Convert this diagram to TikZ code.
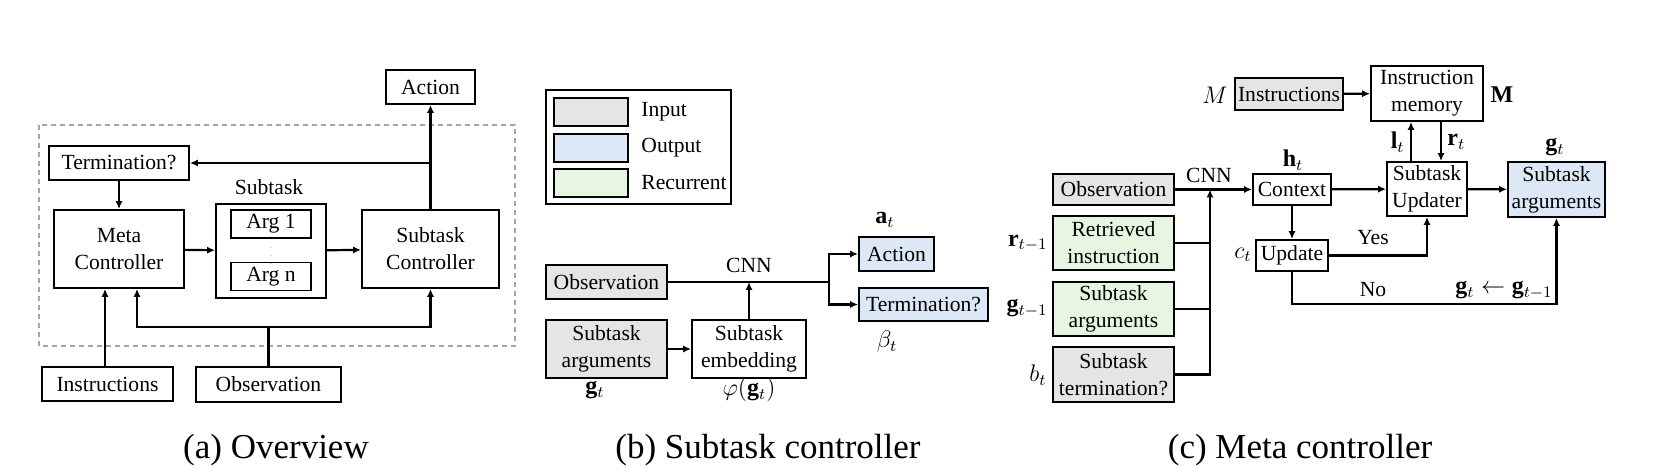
\documentclass[tikz,border=0pt]{standalone}
\usepackage{amsmath,amssymb}
\usepackage{fontspec}
\setmainfont{Liberation Serif}
\usetikzlibrary{arrows.meta}
\definecolor{InGray}{RGB}{229,229,229}
\definecolor{OutBlue}{RGB}{221,232,246}
\definecolor{RecGreen}{RGB}{230,246,225}
\definecolor{DashGray}{RGB}{165,165,165}
\tikzset{
  blk/.style={
    draw=black,
    line width=0.95pt,
    inner sep=0pt,
    align=center,
    font=\fontsize{10.8}{13.5}\selectfont
  },
  inbox/.style={blk,fill=InGray},
  outbox/.style={blk,fill=OutBlue},
  recbox/.style={blk,fill=RecGreen},
  sz/.style 2 args={minimum width=#1pt,minimum height=#2pt},
  lbl/.style={inner sep=0pt,font=\fontsize{10.8}{13.5}\selectfont},
  mathlbl/.style={inner sep=0pt,font=\fontsize{12}{14}\selectfont},
  caption/.style={inner sep=0pt,font=\fontsize{17.5}{20}\selectfont},
  arrow/.style={-{Latex[length=4pt,width=3.6pt]},line width=1.1pt},
  link/.style={line width=1.1pt}
}

\begin{document}
\begin{tikzpicture}[x=0.5pt,y=-0.5pt]
  \useasboundingbox (0,0) rectangle (1656,474);

  % (a) overview
  \draw[DashGray,line width=0.8pt,dash pattern=on 2.5pt off 2pt] (39,125) rectangle (515,346);
  \node[blk,sz={44.5}{17}] (act) at (430.5,87) {Action};
  \node[blk,sz={70}{17}] (term) at (119,163) {Termination?};
  \node[blk,sz={65}{39}] (meta) at (119,249) {Meta\\Controller};
  \node[blk,sz={55}{47}] (subt) at (271,251) {};
  \node[lbl] (subtlbl) at (269,187) {Subtask};
  \node[blk,line width=0.8pt,sz={40}{14}] (arg1) at (271,224) {Arg 1};
  \node[blk,line width=0.8pt,sz={40}{14}] (argn) at (271,276.5) {Arg n};
  \node[lbl,text=gray!60] (argdots) at (271,250) {\tiny$\vdots$};
  \node[blk,sz={68.5}{39}] (sctrl) at (430.5,249) {Subtask\\Controller};
  \node[blk,sz={65.5}{17}] (instr) at (107.5,384) {Instructions};
  \node[blk,sz={72.5}{17.5}] (obs) at (268.5,384.5) {Observation};
  \coordinate (tsplit) at (430.5,163);
  \coordinate (obus) at (268.5,327);
  \draw[arrow] (sctrl) -- (act);
  \draw[arrow] (tsplit) -- (term);
  \draw[arrow] (term) -- (meta);
  \draw[arrow] (meta) -- (subt);
  \draw[arrow] (subt) -- (sctrl);
  \draw[arrow] ([xshift=-1.25pt]instr.north) -- ([xshift=-1.25pt]instr.north |- meta.south);
  \draw[link] (obs) -- (obus);
  \draw[arrow] (obus) -| ([xshift=9pt]meta.south);
  \draw[arrow] (obus) -| (sctrl.south);

  % (b) subtask controller
  \node[blk,sz={92.5}{57}] (legend) at (638.5,147) {};
  \node[inbox,sz={37}{14}] (keyin) at (591,112) {};
  \node[outbox,sz={37}{14}] (keyout) at (591,148) {};
  \node[recbox,sz={37}{14}] (keyrec) at (591,183) {};
  \node[lbl,anchor=west] (keyinlbl) at (641,112) {Input};
  \node[lbl,anchor=west] (keyoutlbl) at (641,148) {Output};
  \node[lbl,anchor=west] (keyreclbl) at (641,183) {Recurrent};
  \node[inbox,sz={60.5}{17}] (obsb) at (606.5,282) {Observation};
  \node[inbox,sz={60.5}{29}] (argsb) at (606.5,349) {Subtask\\arguments};
  \node[blk,sz={57}{29}] (emb) at (749,349) {Subtask\\embedding};
  \node[outbox,sz={37.5}{17}] (actb) at (896.5,254) {Action};
  \node[outbox,sz={64.5}{16.5}] (termb) at (923.5,304.5) {Termination?};
  \node[lbl] (cnnb) at (749,265) {CNN};
  \node[mathlbl] (atlbl) at (885,220) {$\mathbf{a}_t$};
  \node[mathlbl] (btlbl) at (887,342) {$\beta_t$};
  \node[mathlbl] (gtlbl) at (595,390) {$\mathbf{g}_t$};
  \node[mathlbl] (phlbl) at (749,390) {$\varphi(\mathbf{g}_t)$};
  \coordinate (embin) at (749,282);
  \coordinate (bsplit) at (829,282);
  \draw[link] (obsb) -- (bsplit);
  \draw[arrow] (emb) -- (embin);
  \draw[arrow] (argsb) -- (emb);
  \draw[arrow] (bsplit) |- (actb);
  \draw[arrow] (bsplit) |- (termb);

  % (c) meta controller
  \node[mathlbl,anchor=east] (mit) at (1228,95) {$M$};
  \node[inbox,sz={54}{16}] (instrc) at (1289,94) {Instructions};
  \node[blk,sz={56}{27.5}] (mem) at (1427,93.5) {Instruction\\memory};
  \node[mathlbl] (mbf) at (1502,95) {$\mathbf{M}$};
  \node[blk,sz={40}{27}] (upd) at (1427,189) {Subtask\\Updater};
  \node[outbox,sz={48.5}{27.5}] (argsc) at (1556.5,189.5) {Subtask\\arguments};
  \node[blk,sz={39}{15.5}] (ctx) at (1292,189.5) {Context};
  \node[inbox,sz={60.5}{15.5}] (obsc) at (1113.5,189.5) {Observation};
  \node[recbox,sz={60.5}{27}] (retr) at (1113.5,243) {Retrieved\\instruction};
  \node[recbox,sz={60.5}{27}] (argsprev) at (1113.5,309) {Subtask\\arguments};
  \node[inbox,sz={60.5}{27.5}] (termc) at (1113.5,374.5) {Subtask\\termination?};
  \node[blk,sz={36}{15.5}] (chk) at (1292,255.5) {Update};
  \node[lbl] (cnnc) at (1209,175) {CNN};
  \node[mathlbl] (htlbl) at (1293,160) {$\mathbf{h}_t$};
  \node[mathlbl,anchor=east] (ctlbl) at (1252,255) {$c_t$};
  \node[mathlbl,anchor=east] (rprev) at (1048,243) {$\mathbf{r}_{t-1}$};
  \node[mathlbl,anchor=east] (gprev) at (1048,308) {$\mathbf{g}_{t-1}$};
  \node[mathlbl,anchor=east] (btc) at (1047,375) {$b_t$};
  \node[mathlbl,anchor=east] (ltlbl) at (1405,142) {$\mathbf{l}_t$};
  \node[mathlbl,anchor=west] (rtlbl) at (1447,142) {$\mathbf{r}_t$};
  \node[mathlbl] (gtc) at (1555,147) {$\mathbf{g}_t$};
  \node[lbl] (yeslbl) at (1373,238) {Yes};
  \node[lbl] (nolbl) at (1373,290) {No};
  \node[mathlbl] (keeplbl) at (1504,290) {$\mathbf{g}_t \leftarrow \mathbf{g}_{t-1}$};
  \coordinate (bustop) at (1210,189.5);
  \coordinate (nolvl) at (1292,304);
  \draw[arrow] (obsc) -- (ctx);
  \draw[arrow] (termc) -| (bustop);
  \draw[link] (retr.east) -- (retr.east -| bustop);
  \draw[link] (argsprev.east) -- (argsprev.east -| bustop);
  \draw[arrow] (instrc) -- (mem);
  \draw[arrow] (ctx) -- (upd);
  \draw[arrow] (upd) -- (argsc);
  \draw[arrow] ([xshift=-8pt]upd.north) -- ([xshift=-8pt]mem.south);
  \draw[arrow] ([xshift=7pt]mem.south) -- ([xshift=7pt]upd.north);
  \draw[arrow] (ctx) -- (chk);
  \draw[arrow] (chk) -| (upd);
  \draw[arrow] (chk) -- (nolvl) -| (argsc);

  % captions
  \node[caption] (capa) at (276,450) {(a) Overview};
  \node[caption] (capb) at (768,450) {(b) Subtask controller};
  \node[caption] (capc) at (1300,450) {(c) Meta controller};
\end{tikzpicture}
\end{document}
